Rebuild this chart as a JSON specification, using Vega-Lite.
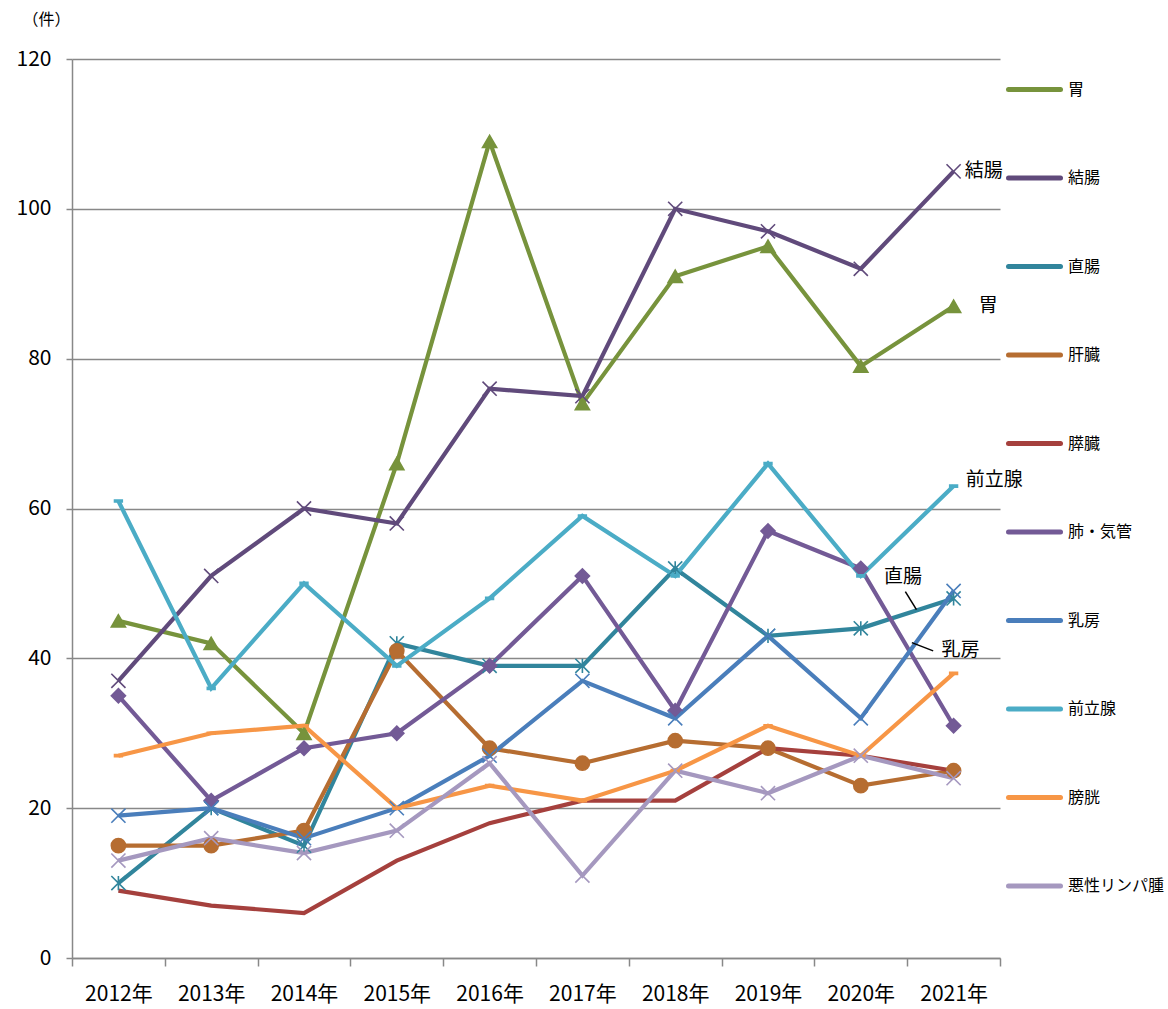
{
  "$schema": "https://vega.github.io/schema/vega-lite/v6.json",
  "width": 928,
  "height": 899,
  "autosize": "none",
  "padding": {"left": 72, "top": 59, "right": 168, "bottom": 51},
  "background": "white",
  "config": {"font": "Noto Sans CJK JP", "view": {"stroke": null}},
  "datasets": {
    "main": [
      {"year":"2012年","site":"胃","count":45},{"year":"2013年","site":"胃","count":42},{"year":"2014年","site":"胃","count":30},{"year":"2015年","site":"胃","count":66},{"year":"2016年","site":"胃","count":109},{"year":"2017年","site":"胃","count":74},{"year":"2018年","site":"胃","count":91},{"year":"2019年","site":"胃","count":95},{"year":"2020年","site":"胃","count":79},{"year":"2021年","site":"胃","count":87},
      {"year":"2012年","site":"結腸","count":37},{"year":"2013年","site":"結腸","count":51},{"year":"2014年","site":"結腸","count":60},{"year":"2015年","site":"結腸","count":58},{"year":"2016年","site":"結腸","count":76},{"year":"2017年","site":"結腸","count":75},{"year":"2018年","site":"結腸","count":100},{"year":"2019年","site":"結腸","count":97},{"year":"2020年","site":"結腸","count":92},{"year":"2021年","site":"結腸","count":105},
      {"year":"2012年","site":"直腸","count":10},{"year":"2013年","site":"直腸","count":20},{"year":"2014年","site":"直腸","count":15},{"year":"2015年","site":"直腸","count":42},{"year":"2016年","site":"直腸","count":39},{"year":"2017年","site":"直腸","count":39},{"year":"2018年","site":"直腸","count":52},{"year":"2019年","site":"直腸","count":43},{"year":"2020年","site":"直腸","count":44},{"year":"2021年","site":"直腸","count":48},
      {"year":"2012年","site":"肝臓","count":15},{"year":"2013年","site":"肝臓","count":15},{"year":"2014年","site":"肝臓","count":17},{"year":"2015年","site":"肝臓","count":41},{"year":"2016年","site":"肝臓","count":28},{"year":"2017年","site":"肝臓","count":26},{"year":"2018年","site":"肝臓","count":29},{"year":"2019年","site":"肝臓","count":28},{"year":"2020年","site":"肝臓","count":23},{"year":"2021年","site":"肝臓","count":25},
      {"year":"2012年","site":"膵臓","count":9},{"year":"2013年","site":"膵臓","count":7},{"year":"2014年","site":"膵臓","count":6},{"year":"2015年","site":"膵臓","count":13},{"year":"2016年","site":"膵臓","count":18},{"year":"2017年","site":"膵臓","count":21},{"year":"2018年","site":"膵臓","count":21},{"year":"2019年","site":"膵臓","count":28},{"year":"2020年","site":"膵臓","count":27},{"year":"2021年","site":"膵臓","count":25},
      {"year":"2012年","site":"肺・気管","count":35},{"year":"2013年","site":"肺・気管","count":21},{"year":"2014年","site":"肺・気管","count":28},{"year":"2015年","site":"肺・気管","count":30},{"year":"2016年","site":"肺・気管","count":39},{"year":"2017年","site":"肺・気管","count":51},{"year":"2018年","site":"肺・気管","count":33},{"year":"2019年","site":"肺・気管","count":57},{"year":"2020年","site":"肺・気管","count":52},{"year":"2021年","site":"肺・気管","count":31},
      {"year":"2012年","site":"乳房","count":19},{"year":"2013年","site":"乳房","count":20},{"year":"2014年","site":"乳房","count":16},{"year":"2015年","site":"乳房","count":20},{"year":"2016年","site":"乳房","count":27},{"year":"2017年","site":"乳房","count":37},{"year":"2018年","site":"乳房","count":32},{"year":"2019年","site":"乳房","count":43},{"year":"2020年","site":"乳房","count":32},{"year":"2021年","site":"乳房","count":49},
      {"year":"2012年","site":"前立腺","count":61},{"year":"2013年","site":"前立腺","count":36},{"year":"2014年","site":"前立腺","count":50},{"year":"2015年","site":"前立腺","count":39},{"year":"2016年","site":"前立腺","count":48},{"year":"2017年","site":"前立腺","count":59},{"year":"2018年","site":"前立腺","count":51},{"year":"2019年","site":"前立腺","count":66},{"year":"2020年","site":"前立腺","count":51},{"year":"2021年","site":"前立腺","count":63},
      {"year":"2012年","site":"膀胱","count":27},{"year":"2013年","site":"膀胱","count":30},{"year":"2014年","site":"膀胱","count":31},{"year":"2015年","site":"膀胱","count":20},{"year":"2016年","site":"膀胱","count":23},{"year":"2017年","site":"膀胱","count":21},{"year":"2018年","site":"膀胱","count":25},{"year":"2019年","site":"膀胱","count":31},{"year":"2020年","site":"膀胱","count":27},{"year":"2021年","site":"膀胱","count":38},
      {"year":"2012年","site":"悪性リンパ腫","count":13},{"year":"2013年","site":"悪性リンパ腫","count":16},{"year":"2014年","site":"悪性リンパ腫","count":14},{"year":"2015年","site":"悪性リンパ腫","count":17},{"year":"2016年","site":"悪性リンパ腫","count":26},{"year":"2017年","site":"悪性リンパ腫","count":11},{"year":"2018年","site":"悪性リンパ腫","count":25},{"year":"2019年","site":"悪性リンパ腫","count":22},{"year":"2020年","site":"悪性リンパ腫","count":27},{"year":"2021年","site":"悪性リンパ腫","count":24}
    ],
    "notes": [
      {"label":"結腸","x":2021.12,"y":105},
      {"label":"胃","x":2021.27,"y":87},
      {"label":"前立腺","x":2021.13,"y":63.8},
      {"label":"直腸","x":2020.25,"y":50.8},
      {"label":"乳房","x":2020.87,"y":41.1}
    ],
    "leaders": [
      {"x":2020.48,"x2":2020.6,"y":48.9,"y2":46.5},
      {"x":2020.55,"x2":2020.78,"y":42.1,"y2":41.0}
    ]
  },
  "layer": [
    {
      "data": {"name": "main"},
      "encoding": {
        "x": {
          "field": "year", "type": "ordinal", "bandPosition": 0.5,
          "scale": {"type": "band", "paddingInner": 0, "paddingOuter": 0},
          "axis": {"title": null, "labelAngle": 0, "tickBand": "extent", "domainColor": "#888888", "domainWidth": 1.5, "tickColor": "#888888", "tickWidth": 1.5, "tickSize": 8, "labelFontSize": 21, "labelPadding": 17, "labelColor": "#000000", "grid": false}
        },
        "y": {
          "field": "count", "type": "quantitative",
          "scale": {"domain": [0, 120], "nice": false},
          "axis": {"values": [0, 20, 40, 60, 80, 100, 120], "grid": true, "gridColor": "#888888", "gridWidth": 1.5, "domainColor": "#888888", "domainWidth": 1.5, "tickColor": "#888888", "tickWidth": 1.5, "tickSize": 6, "labelFontSize": 21, "labelPadding": 15, "labelColor": "#000000",
            "title": "（件）", "titleAngle": 0, "titleFontSize": 16, "titleFontWeight": "normal", "titleAlign": "center", "titleBaseline": "middle", "titleX": -26, "titleY": -40, "titleColor": "#000000"}
        }
      },
      "layer": [
        {
          "mark": {"type": "line", "strokeWidth": 4.2, "strokeJoin": "miter"},
          "encoding": {
            "color": {
              "field": "site", "type": "nominal",
              "scale": {
                "domain": ["胃","結腸","直腸","肝臓","膵臓","肺・気管","乳房","前立腺","膀胱","悪性リンパ腫"],
                "range": ["#77933C","#604A7B","#31859C","#B66D31","#A5403D","#735A96","#4A7EBB","#4BACC6","#F79646","#A598BF"]
              },
              "legend": {
                "title": null, "orient": "none", "legendX": 934, "legendY": 2,
                "symbolType": "stroke", "symbolSize": 2704, "symbolStrokeWidth": 5,
                "rowPadding": 49.5, "labelFontSize": 16, "labelOffset": 5, "labelColor": "#000000",
                "encode": {"symbols": {"update": {"strokeCap": {"value": "round"}}}}
              }
            }
          }
        },
        {
          "mark": {"type": "point", "opacity": 1, "size": 200, "strokeWidth": 1.6},
          "encoding": {
            "fill": {"field": "site", "type": "nominal", "legend": null,
              "scale": {
                "domain": ["悪性リンパ腫","膀胱","前立腺","乳房","肺・気管","膵臓","肝臓","直腸","結腸","胃"],
                "range": ["#A598BF","#F79646","#4BACC6","#4A7EBB","#735A96","#A5403D","#B66D31","#31859C","#604A7B","#77933C"]
              }
            },
            "stroke": {"field": "site", "type": "nominal", "legend": null,
              "scale": {
                "domain": ["悪性リンパ腫","膀胱","前立腺","乳房","肺・気管","膵臓","肝臓","直腸","結腸","胃"],
                "range": ["#A598BF","#F79646","#4BACC6","#4A7EBB","#735A96","#A5403D","#B66D31","#31859C","#604A7B","#77933C"]
              }
            },
            "shape": {"field": "site", "type": "nominal", "legend": null,
              "scale": {
                "domain": ["悪性リンパ腫","膀胱","前立腺","乳房","肺・気管","膵臓","肝臓","直腸","結腸","胃"],
                "range": ["M-1,-1L1,1M-1,1L1,-1","M-0.55,-0.15L0.55,-0.15L0.55,0.15L-0.55,0.15Z","M-0.55,-0.15L0.55,-0.15L0.55,0.15L-0.55,0.15Z","M-1,-1L1,1M-1,1L1,-1","diamond","M0,0Z","circle","M-1,-1L1,1M-1,1L1,-1M0,-1L0,1","M-1,-1L1,1M-1,1L1,-1","triangle-up"]
              }
            }
          }
        }
      ]
    },
    {
      "data": {"name": "notes"},
      "mark": {"type": "text", "align": "left", "baseline": "middle", "fontSize": 19, "color": "#000000"},
      "encoding": {
        "x": {"field": "x", "type": "quantitative", "scale": {"domain": [2011.5, 2021.5], "nice": false, "zero": false}, "axis": null},
        "y": {"field": "y", "type": "quantitative"},
        "text": {"field": "label"}
      }
    },
    {
      "data": {"name": "leaders"},
      "mark": {"type": "rule", "color": "#000000", "strokeWidth": 1.5},
      "encoding": {
        "x": {"field": "x", "type": "quantitative", "scale": {"domain": [2011.5, 2021.5], "nice": false, "zero": false}, "axis": null},
        "x2": {"field": "x2"},
        "y": {"field": "y", "type": "quantitative"},
        "y2": {"field": "y2"}
      }
    }
  ],
  "resolve": {"scale": {"x": "independent"}}
}
